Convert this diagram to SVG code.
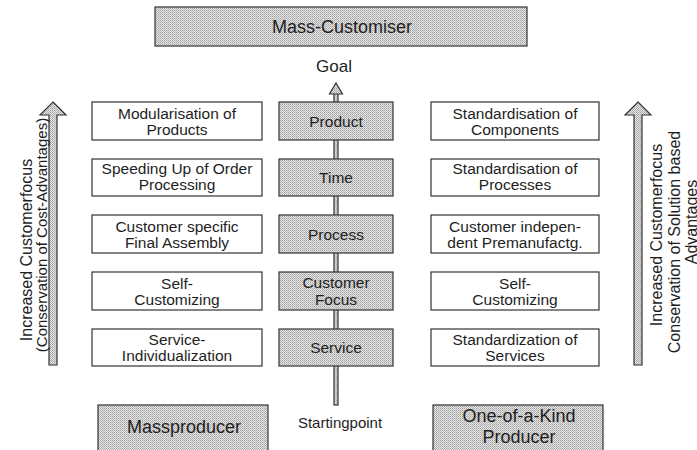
<svg xmlns="http://www.w3.org/2000/svg" width="697" height="450" viewBox="0 0 697 450">
<style>
text{font-family:"Liberation Sans",Arial,sans-serif;fill:#1e1e1e;text-anchor:middle}
.bx{fill:#fff;stroke:#333;stroke-width:1.2}
.sh{fill:url(#dot);stroke:#333;stroke-width:1.2}
.t{font-size:15.5px}
.big{font-size:18px}
.rot{font-size:16px}
</style>
<defs>
<pattern id="dot" width="2" height="2" patternUnits="userSpaceOnUse">
<rect width="2" height="2" fill="#e4e4e4"/>
<rect width="1" height="1" fill="#a2a2a2"/>
<rect x="1" y="1" width="1" height="1" fill="#b8b8b8"/>
</pattern>
</defs>
<rect width="697" height="450" fill="#fff"/>

<g id="connectors">
<rect class="sh" x="334" y="93" width="4" height="312"/>
<path class="sh" d="M336,83 L342.5,94 L329.5,94 Z"/>
<path id="arrow-left" class="sh" d="M53,102 L66,115 L57,115 L57,365 L49,365 L49,115 L40,115 Z"/>
<path id="arrow-right" class="sh" d="M638,102 L651,115 L642,115 L642,365 L634,365 L634,115 L625,115 Z"/>
</g>

<g id="mass-customiser">
<rect class="sh" x="155" y="7" width="372" height="39"/>
<text class="big" x="342" y="33">Mass-Customiser</text>
</g>
<g id="goal"><text x="334" y="72" style="font-size:17px">Goal</text></g>

<g id="c-product"><rect class="sh" x="279" y="102" width="114" height="38"/><text class="t" x="336" y="126.5">Product</text></g>
<g id="c-time"><rect class="sh" x="279" y="159" width="114" height="37"/><text class="t" x="336" y="183">Time</text></g>
<g id="c-process"><rect class="sh" x="279" y="215" width="114" height="38"/><text class="t" x="336" y="239.5">Process</text></g>
<g id="c-customer-focus"><rect class="sh" x="279" y="272" width="114" height="38"/><text class="t" x="336" y="288">Customer</text><text class="t" x="336" y="305">Focus</text></g>
<g id="c-service"><rect class="sh" x="279" y="329" width="114" height="37"/><text class="t" x="336" y="353">Service</text></g>

<g id="l-1"><rect class="bx" x="92" y="102" width="170" height="38"/><text class="t" x="177" y="119">Modularisation of</text><text class="t" x="177" y="135">Products</text></g>
<g id="l-2"><rect class="bx" x="92" y="159" width="170" height="37"/><text class="t" x="177" y="174">Speeding Up of Order</text><text class="t" x="177" y="190">Processing</text></g>
<g id="l-3"><rect class="bx" x="92" y="215" width="170" height="38"/><text class="t" x="177" y="232">Customer specific</text><text class="t" x="177" y="248">Final Assembly</text></g>
<g id="l-4"><rect class="bx" x="92" y="272" width="170" height="38"/><text class="t" x="177" y="289">Self-</text><text class="t" x="177" y="305">Customizing</text></g>
<g id="l-5"><rect class="bx" x="92" y="329" width="170" height="37"/><text class="t" x="177" y="345">Service-</text><text class="t" x="177" y="361">Individualization</text></g>

<g id="r-1"><rect class="bx" x="431" y="102" width="168" height="38"/><text class="t" x="515" y="119">Standardisation of</text><text class="t" x="515" y="135">Components</text></g>
<g id="r-2"><rect class="bx" x="431" y="159" width="168" height="37"/><text class="t" x="515" y="174">Standardisation of</text><text class="t" x="515" y="190">Processes</text></g>
<g id="r-3"><rect class="bx" x="431" y="215" width="168" height="38"/><text class="t" x="515" y="232">Customer indepen-</text><text class="t" x="515" y="248">dent Premanufactg.</text></g>
<g id="r-4"><rect class="bx" x="431" y="272" width="168" height="38"/><text class="t" x="515" y="289">Self-</text><text class="t" x="515" y="305">Customizing</text></g>
<g id="r-5"><rect class="bx" x="431" y="329" width="168" height="37"/><text class="t" x="515" y="345">Standardization of</text><text class="t" x="515" y="361">Services</text></g>

<g id="left-label">
<text class="rot" transform="translate(32,250) rotate(-90)">Increased Customerfocus</text>
<text class="rot" style="font-size:15px" transform="translate(47,235) rotate(-90)">(Conservation of Cost-Advantages)</text>
</g>
<g id="right-label">
<text class="rot" transform="translate(662,235) rotate(-90)">Increased Customerfocus</text>
<text class="rot" transform="translate(680,242) rotate(-90)">Conservation of Solution based</text>
<text class="rot" transform="translate(697,222) rotate(-90)">Advantages</text>
</g>

<g id="massproducer"><rect class="sh" x="98" y="405" width="170" height="50"/><text class="big" x="184" y="433">Massproducer</text></g>
<g id="startingpoint"><text x="340" y="428" style="font-size:15px">Startingpoint</text></g>
<g id="one-of-a-kind"><rect class="sh" x="433" y="405" width="170" height="50"/><text class="big" x="519" y="422">One-of-a-Kind</text><text class="big" x="519" y="443">Producer</text></g>
</svg>
